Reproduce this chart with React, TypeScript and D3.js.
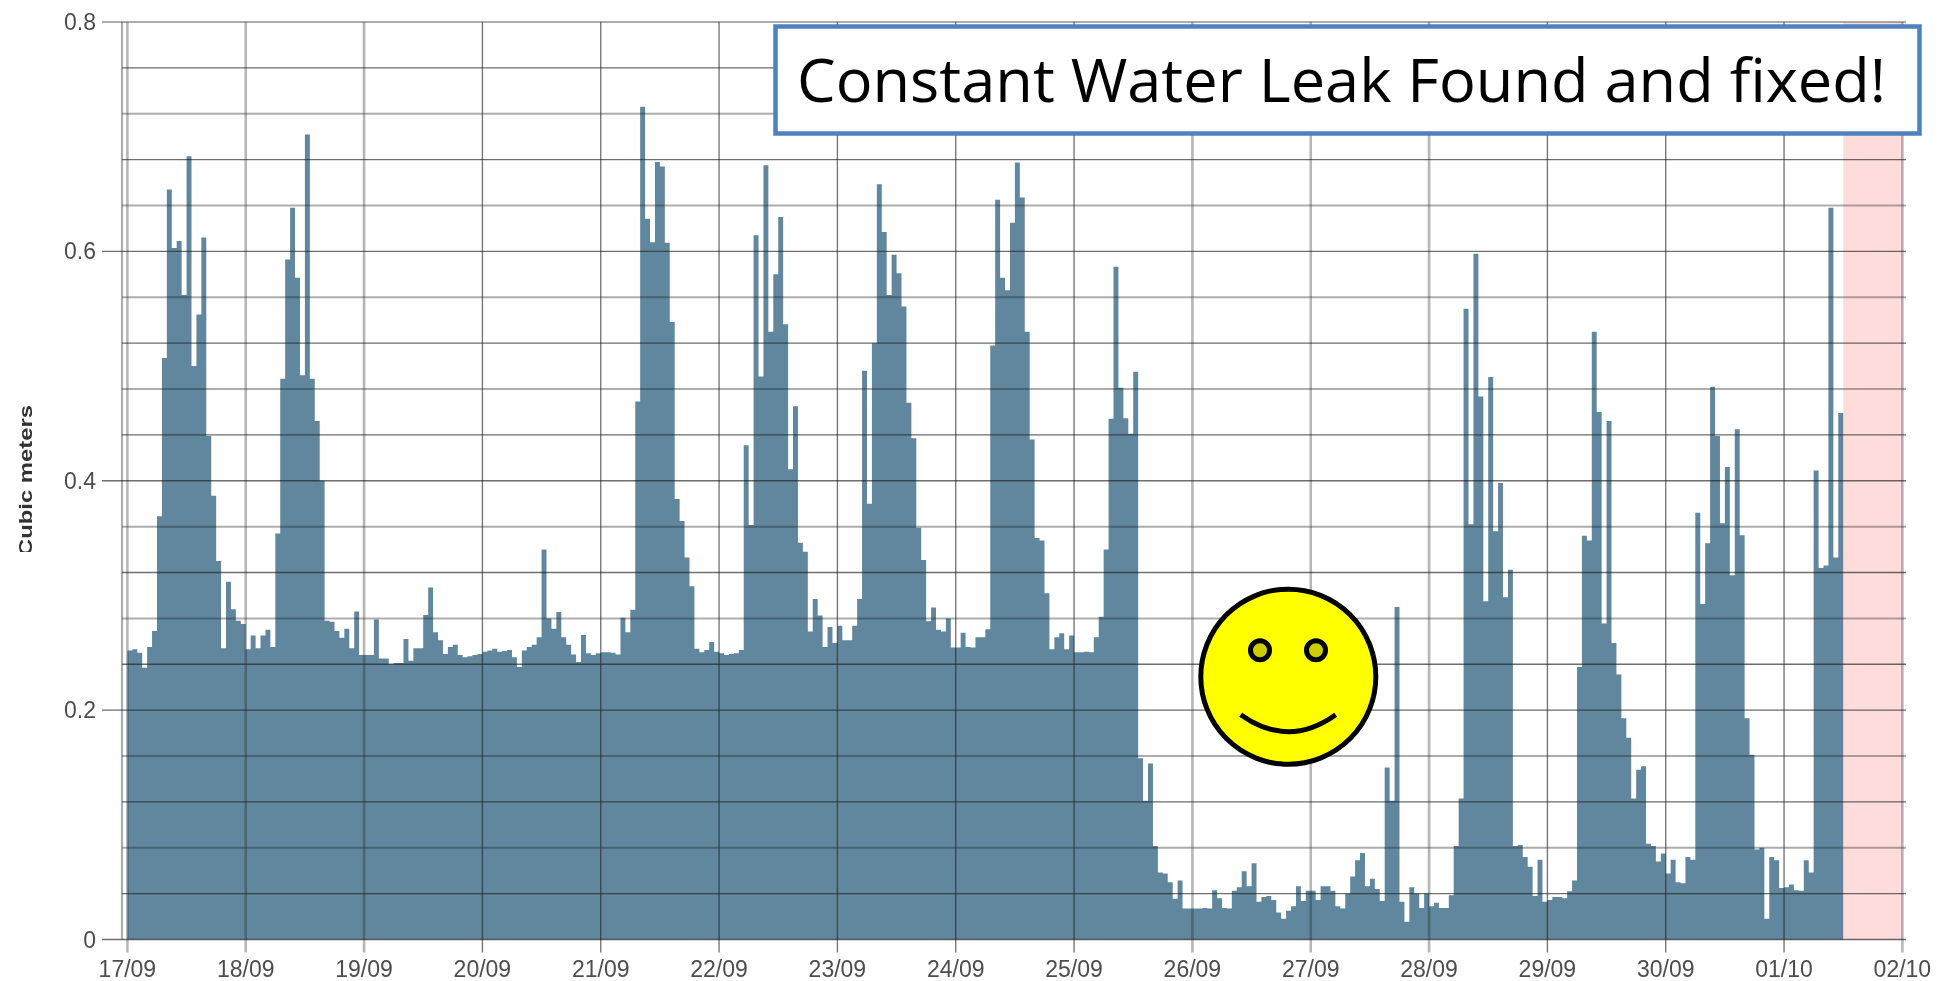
import React from "react";
import * as d3 from "d3";

const dayLabels = ["17/09","18/09","19/09","20/09","21/09","22/09","23/09","24/09","25/09","26/09","27/09","28/09","29/09","30/09","01/10","02/10"];
const yLabels = [0, 0.2, 0.4, 0.6, 0.8];
const yGrid = d3.range(0, 21).map((d) => d * 0.04);

const sep17 = [.252,.253,.25,.237,.255,.269,.369,.507,.654,.603,.609,.562,.683,.5,.545,.612,.439,.387,.33,.254,.312,.288,.278,.275];
const sep18 = [.253,.265,.254,.265,.27,.255,.354,.489,.593,.638,.577,.492,.702,.489,.452,.4,.278,.277,.269,.263,.271,.254,.286,.248];
const sep19 = [.248,.248,.279,.245,.245,.24,.241,.241,.262,.243,.254,.254,.283,.307,.268,.261,.249,.255,.257,.248,.246,.247,.248,.249];
const sep20 = [.251,.252,.2535,.251,.2515,.2525,.246,.2375,.252,.255,.257,.2635,.34,.28,.271,.2855,.2635,.257,.2485,.242,.2655,.2495,.248,.2495];
const sep21 = [.2505,.2505,.25,.2485,.2805,.268,.2875,.469,.726,.6285,.608,.678,.674,.6075,.5385,.384,.365,.333,.308,.2535,.2505,.2525,.2595,.251];
const sep22 = [.2495,.248,.249,.2495,.2525,.431,.3615,.614,.491,.675,.53,.58,.63,.5365,.41,.465,.346,.338,.2685,.297,.2825,.255,.2725,.2585];
const sep23 = [.2735,.261,.261,.2735,.297,.496,.38,.52,.6585,.617,.562,.597,.581,.552,.468,.437,.359,.331,.2775,.2895,.27,.2685,.28,.2545];
const sep24 = [.2545,.2675,.255,.2545,.2635,.2635,.2705,.518,.645,.577,.566,.625,.6775,.647,.53,.436,.35,.348,.302,.253,.2635,.267,.253,.265];
const sep25 = [.2505,.2505,.251,.2505,.2635,.2815,.34,.454,.5865,.481,.4545,.441,.495,.158,.121,.1535,.0815,.0585,.0575,.05,.0355,.0515,.027,.027];
const sep26 = [.027,.027,.0275,.027,.043,.036,.0275,.027,.0425,.0455,.0595,.0465,.0665,.033,.037,.038,.0345,.0235,.018,.025,.029,.0465,.0335,.0425];
const sep27 = [.0425,.0345,.0465,.0465,.0425,.029,.027,.04,.055,.069,.0755,.0465,.053,.044,.0335,.15,.121,.29,.033,.0155,.0455,.04,.0275,.04];
const sep28 = [.029,.032,.0275,.0275,.0385,.0815,.123,.55,.362,.598,.4735,.295,.4905,.356,.398,.2985,.3225,.0815,.0825,.072,.0635,.038,.0695,.033];
const sep29 = [.0345,.037,.037,.036,.042,.0515,.2375,.352,.348,.53,.46,.2755,.452,.2585,.231,.193,.176,.123,.148,.151,.0835,.0815,.068,.075];
const sep30 = [.0575,.0695,.05,.049,.072,.0695,.372,.2925,.3455,.482,.439,.363,.412,.3175,.445,.3525,.193,.161,.0785,.08,.018,.072,.069,.045];
const oct01 = [.0455,.048,.043,.0425,.069,.0585,.409,.324,.326,.638,.333,.459];

const hourly = [sep17,sep18,sep19,sep20,sep21,sep22,sep23,sep24,sep25,sep26,sep27,sep28,sep29,sep30,oct01].flat();

// how each grid line came out of the source image's resampling
const softDays = new Set(["17/09","18/09","19/09","26/09","27/09","28/09","02/10"]);
const softYIndex = new Set([2,4,7,9,12,14,16,18,20]);

const W = 1950, H = 981;
const x = d3.scaleLinear().domain([0, 15 * 24]).range([127.4, 1902.4]);
const y = d3.scaleLinear().domain([0, 0.8]).range([939.5, 22]);
const AXIS_X = 122;
const COL_BAR = "#60879d";
const COL_TEXT = "#4d4d4d";
const SANS = "'Liberation Sans', Arial, sans-serif";

const stepArea = d3.area<number>()
  .x((_, i) => x(i))
  .y0(y(0))
  .y1((d) => y(d))
  .curve(d3.curveStepAfter);

export default function App() {
  const end = hourly.length;
  const barPath = stepArea([...hourly, hourly[end - 1]]) || "";
  return (
    <svg width={W} height={H} viewBox={`0 0 ${W} ${H}`}
      style={{ position: "absolute", left: 0, top: 0, background: "#fff" }}>
      <defs>
        <filter id="soft" x="-2%" y="-2%" width="104%" height="104%">
          <feGaussianBlur stdDeviation="0.7" />
        </filter>
        <clipPath id="ylabClip"><rect x="0" y="380" width="60" height="172" /></clipPath>
      </defs>
      <g filter="url(#soft)">
        <rect x={x(end)} y={y(0.8)} width={x(360) - x(end)} height={y(0) - y(0.8)} fill="#fedcdc" />
        <path d={barPath} fill={COL_BAR} />
        <line x1={AXIS_X} x2={AXIS_X} y1={y(0.8)} y2={y(0)} stroke="#8a8a8a" strokeWidth={2.2} strokeOpacity={0.7} />
        {yGrid.map((v, i) => {
          const soft = softYIndex.has(i);
          const major = i % 5 === 0;
          return (
            <line key={i} x1={major ? 102 : AXIS_X} x2={1906} y1={y(v)} y2={y(v)}
              stroke="#222" strokeWidth={soft ? 2 : 1.4} strokeOpacity={soft ? 0.36 : 0.66} />
          );
        })}
        {dayLabels.map((d, i) => {
          const soft = softDays.has(d);
          return (
            <line key={d} x1={x(i * 24)} x2={x(i * 24)} y1={y(0.8)} y2={y(0) + 13}
              stroke="#222" strokeWidth={soft ? 2.6 : 1.4} strokeOpacity={soft ? 0.32 : 0.6} />
          );
        })}
        {dayLabels.map((d, i) => (
          <text key={d} x={x(i * 24)} y={977} textAnchor="middle" fontFamily={SANS} fontSize={23} fill={COL_TEXT}>{d}</text>
        ))}
        {yLabels.map((v) => (
          <text key={v} x={96} y={y(v) + 8} textAnchor="end" fontFamily={SANS} fontSize={23} fill={COL_TEXT}>{v}</text>
        ))}
        <g clipPath="url(#ylabClip)">
          <text transform="translate(32,556) rotate(-90)" fontFamily={SANS} fontWeight="bold" fontSize={18}
            textLength={151} lengthAdjust="spacingAndGlyphs" fill="#333">Cubic meters</text>
        </g>
      </g>
      <rect x={775.5} y={26.5} width={1144} height={107} fill="#fff" stroke="#4f81bd" strokeWidth={4.5} />
      <text x={797} y={102} fontFamily="'Open Sans', sans-serif" fontSize={61} textLength={1089}
        lengthAdjust="spacingAndGlyphs" fill="#000">Constant Water Leak Found and fixed!</text>
      <g stroke="#000" strokeWidth={5}>
        <circle cx={1288.3} cy={676.7} r={87.5} fill="#ffff00" />
        <circle cx={1260} cy={650.3} r={9.5} fill="#cccc00" />
        <circle cx={1316} cy={650.3} r={9.5} fill="#cccc00" />
        <path d="M1240.7,714.7 Q1288.3,748.7 1335.7,714.7" fill="none" />
      </g>
    </svg>
  );
}
